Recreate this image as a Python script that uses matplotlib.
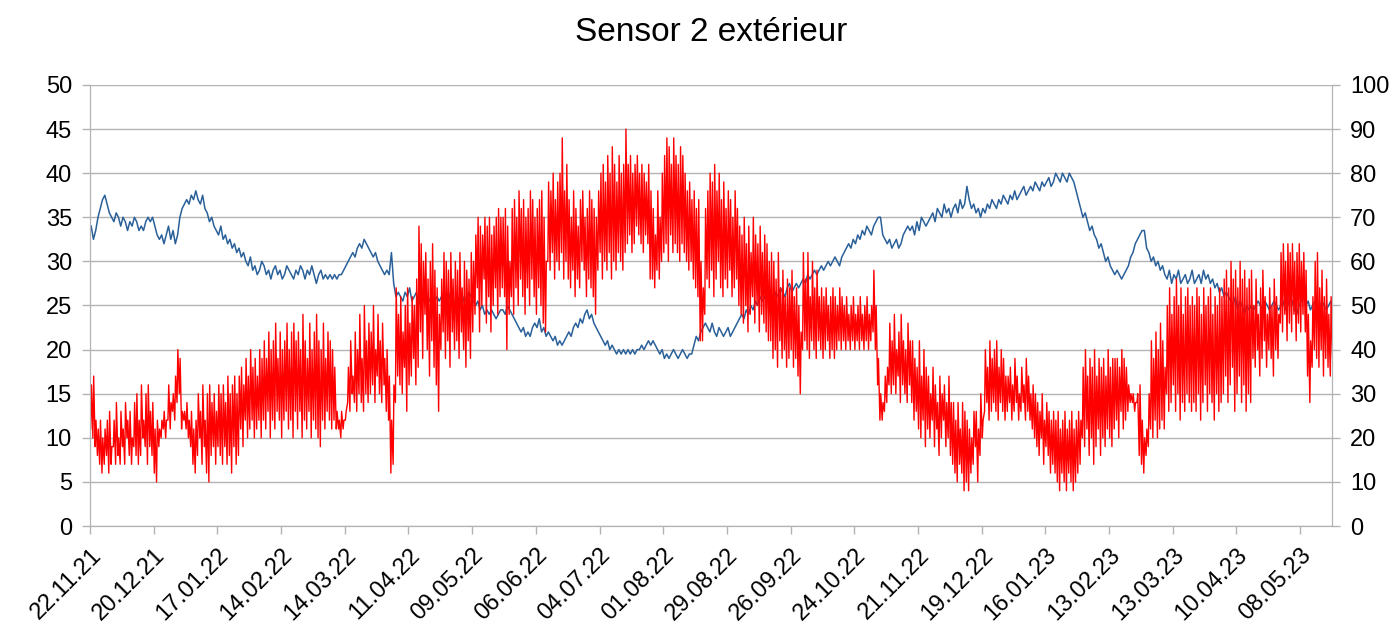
import numpy as np
import pandas as pd
import matplotlib
matplotlib.use("Agg")
import matplotlib.pyplot as plt

plt.rcParams['font.family'] = ['Liberation Sans', 'DejaVu Sans']

start = pd.Timestamp("2021-11-22")

# daily high / low temperature (left axis)
t_max = [
    16, 17, 12, 11, 12, 10, 11, 12, 13, 9, 12, 14, 10, 13, 11,
    14, 12, 13, 10, 14, 15, 12, 16, 12, 15, 16, 13, 14, 11, 12,
    11, 12, 13, 12, 16, 14, 15, 17, 20, 19, 13, 13, 14, 12, 13, 11, 12,
    15, 13, 16, 12, 15, 16, 14, 15, 13, 16, 15, 16, 14, 17, 15, 16, 17, 15, 17,
    18, 16, 19, 17, 20, 18, 19, 17, 20, 19,
    21, 19, 22, 20, 21, 23, 19, 22, 20, 21, 23, 20, 22, 23, 21,
    22, 20, 24, 21, 19, 23, 20, 22, 24, 21, 20, 23, 19, 22, 21, 20, 18,
    13, 12, 13, 12, 13,
    18, 21, 17, 22, 20, 24, 19, 25, 21, 23,
    22, 25, 20, 24, 21, 23, 19, 20, 17,
    12, 16,
    27, 24, 26, 22, 25, 27, 23, 26, 25, 28, 34,
    32, 30, 31, 28, 30, 32, 29, 27, 24,
    28, 31, 30, 29, 31, 28, 30, 29, 31, 27, 30, 29, 28, 31, 30,
    33, 35, 34, 33, 35, 34, 35, 33, 34, 35, 36, 35,
    35, 36, 34, 30,
    36, 37, 35, 38, 36, 37, 35, 36, 38, 37, 35, 36, 37, 38, 35, 30,
    39, 38, 40, 37, 39, 40, 44, 38, 41,
    37, 35, 38, 36, 34, 37, 38, 35, 36, 38, 37, 36, 35,
    38, 40, 41, 39, 42, 40, 43, 41, 39, 42, 40, 41, 45,
    41, 42, 40, 41, 42, 40, 41, 40, 39, 41, 38,
    36, 33, 38, 35, 40,
    42, 44, 43, 41, 44, 42, 41, 43, 42,
    40, 38, 39, 37, 38, 36, 37,
    30, 27, 36,
    38, 40, 39, 41, 38, 40, 37, 39, 36, 38, 37, 35, 38, 36, 34,
    33, 35, 32, 34, 31, 35, 33, 32, 34, 31, 33, 32, 30,
    31, 30, 28, 31, 27, 29, 26, 28, 27, 29, 26, 27, 25, 22,
    31, 28, 31, 26, 30, 27, 29, 26,
    27, 26, 27, 25, 26, 27, 26, 25, 27, 26,
    25, 26, 24, 25, 26, 24, 25, 26, 24, 25, 26, 24, 25, 29, 25,
    19, 15, 14, 17, 18,
    23, 21, 24, 20, 22, 24, 21, 20, 23, 21,
    21, 19, 18, 21, 17, 20, 18,
    17, 15, 18, 16, 14, 17, 15, 16, 14, 17, 14,
    14, 12, 14, 11, 14, 13, 12, 11, 10,
    13, 13, 11, 15, 12,
    20, 18, 21, 19, 20, 21, 18, 20, 19, 17,
    17, 18, 16, 19, 17, 15, 18, 16, 19, 17, 15, 16,
    15, 14, 13, 15, 12, 14, 13, 12, 13,
    12, 13, 11, 12, 13, 11, 12, 13, 11, 12, 13, 12,
    18, 20, 17, 19, 18, 20, 17, 19, 18, 19, 17, 20, 18, 19, 19,
    19, 18, 20, 19, 18, 16,
    15, 15, 14, 15,
    16, 12, 10, 11, 15,
    21, 19, 22, 20, 23, 21, 18,
    25, 27, 24, 26, 28, 25, 27, 24, 26, 27, 25, 26,
    25, 27, 26, 24, 27, 25, 26, 27, 24, 26, 25, 27, 26, 28,
    29, 27, 30, 28, 29, 27, 30, 28, 29, 27, 28, 29,
    25, 28, 24, 27, 29, 26, 24, 27, 25, 28, 26, 24,
    31, 32, 30, 32, 31, 32, 30, 31, 32, 30, 31, 29,
    24, 21, 26, 30,
    31, 27, 29, 26, 28, 24, 26, 25, 25,
]
t_min = [
    11, 10, 9, 8, 7, 6, 7, 8, 6, 7, 9, 7, 8, 7, 9,
    7, 10, 8, 7, 9, 8, 7, 8, 10, 9, 7, 9, 8, 6, 5,
    9, 10, 11, 10, 12, 11, 13, 12, 14, 15, 11, 12, 11, 10, 9, 7, 6,
    8, 10, 7, 9, 6, 5, 8, 9, 7, 9, 8, 7, 9, 7, 8, 6, 9, 7, 8,
    11, 9, 12, 10, 11, 12, 10, 11, 12, 10,
    12, 11, 13, 10, 12, 11, 13, 12, 10, 12, 13, 11, 12, 10, 13,
    11, 13, 10, 12, 11, 13, 10, 12, 11, 10, 9, 12, 11, 13, 12, 11, 12,
    11, 11, 10, 11, 12,
    14, 13, 15, 14, 13, 15, 14, 13, 15, 14,
    15, 16, 14, 17, 15, 14, 16, 13, 12,
    6, 7,
    14, 17, 16, 15, 18, 13, 16, 17, 19, 16, 18,
    22, 19, 24, 20, 17, 21, 18, 16, 13,
    20, 22, 19, 21, 18, 22, 20, 21, 19, 22, 20, 18, 21, 19, 22,
    24, 27, 22, 25, 28, 23, 26, 22, 25, 27, 24, 26,
    27, 26, 20, 24,
    26, 24, 27, 25, 28, 26, 24, 27, 25, 28, 26, 24, 27, 25, 23, 22,
    30, 29, 31, 28, 30, 29, 31, 28, 30,
    28, 27, 29, 26, 28, 27, 30, 29, 26, 28, 27, 26, 24,
    29, 31, 28, 30, 29, 31, 28, 30, 29, 31, 30, 29, 31,
    32, 33, 31, 32, 34, 33, 32, 31, 33, 32, 28,
    28, 27, 29, 28, 30,
    31, 32, 30, 33, 31, 32, 31, 30, 32,
    31, 30, 29, 30, 28, 27, 26,
    21, 21, 24,
    28, 27, 29, 26, 28, 30, 27, 26, 28, 27, 29, 26, 27, 28, 25,
    24, 23, 25, 22, 24, 26, 23, 25, 22, 24, 23, 22, 21,
    21, 19, 20, 18, 21, 19, 20, 18, 19, 20, 18, 19, 17, 15,
    20, 21, 20, 19, 21, 20, 19, 21,
    20, 19, 20, 21, 19, 20, 19, 20, 21, 20,
    21, 20, 21, 20, 21, 20, 21, 20, 21, 20, 21, 20, 21, 22, 20,
    16, 12, 12, 13, 14,
    16, 15, 16, 15, 17, 14, 16, 15, 14, 16,
    14, 12, 13, 11, 10, 12, 9,
    11, 10, 12, 9, 11, 8, 10, 12, 9, 10, 8,
    7, 6, 5, 7, 6, 4, 5, 4, 6,
    7, 9, 5, 8, 10,
    13, 14, 12, 13, 14, 13, 12, 14, 13, 12,
    13, 14, 12, 13, 14, 12, 13, 14, 12, 13, 12, 11,
    10, 9, 8, 10, 7, 9, 8, 6, 7,
    6, 5, 4, 6, 5, 4, 6, 5, 4, 5, 6, 7,
    10, 9, 11, 8, 10, 7, 9, 11, 8, 10, 9, 11, 10, 9, 11,
    12, 10, 13, 11, 12, 13,
    14, 14, 13, 14,
    8, 7, 6, 8, 9,
    11, 10, 12, 10, 11, 12, 11,
    15, 13, 14, 16, 13, 15, 12, 14, 13, 15, 14, 13,
    14, 13, 15, 12, 14, 16, 13, 15, 14, 12, 15, 13, 14, 15,
    17, 14, 16, 18, 13, 15, 17, 14, 16, 13, 15, 14,
    19, 18, 20, 17, 19, 21, 18, 20, 19, 17, 20, 19,
    23, 22, 24, 21, 23, 22, 24, 21, 23, 22, 24, 22,
    17, 14, 18, 20,
    19, 18, 20, 17, 19, 18, 17, 19, 21,
]

# daily humidity in % (right axis)
humidity = [
    68, 65, 67, 70, 72, 74, 75, 73,
    71, 70, 69, 71, 70, 68, 70, 69, 67, 69, 68, 70, 69, 67,
    68, 67, 69, 70, 69, 70, 68, 66, 65, 66, 64, 66,
    68, 65, 67, 64, 66, 70, 72, 73,
    74, 73, 75, 74, 76, 74, 73, 75, 72, 71, 69,
    70, 68, 67, 66, 68, 65, 66, 64, 65, 63, 64, 62, 63,
    61, 62, 60, 59, 61, 58, 59, 57, 58, 60, 59, 57, 58, 56, 58, 59, 57, 58, 56, 57, 59, 58, 57, 56, 58,
    57, 59, 58, 56, 58, 57, 59, 57, 55, 57, 58, 56, 57,
    56, 57, 56, 57, 56, 57, 57, 58, 59,
    60, 61, 62, 61, 63, 64, 63, 65,
    64, 63, 62, 61, 62, 60, 59, 58, 57, 58, 57,
    62, 55,
    52, 53, 52, 51, 53, 52, 54, 51, 52, 53, 50, 52, 51, 53, 52, 51, 50, 51, 52,
    51, 52, 50, 52, 51, 53, 51, 50, 52, 51, 50, 52, 51, 53, 52, 51, 50, 51, 49, 50, 48, 49, 48, 49, 48, 47, 48, 49,
    49, 48, 50, 49,
    48, 47, 46, 45, 44, 45, 43, 44, 43,
    45, 46, 45, 47, 44, 45, 43,
    44, 43, 42, 43, 41, 42, 41,
    42, 43, 44, 43, 45, 46, 45, 47, 46, 48, 49,
    47, 48, 46, 45, 44, 43, 42, 41, 42, 40, 41, 40, 39,
    40, 39, 40, 39, 40, 39, 40, 39, 40, 40, 41, 40, 41, 42, 41,
    42, 41, 40, 39, 40, 38, 39, 38,
    39, 40, 39, 38, 39, 40, 39, 38, 39, 39,
    41, 43, 42, 44, 45, 46,
    45, 44, 46, 44, 43, 45, 44, 43, 44, 45, 43, 44, 45,
    46, 47, 48, 47, 49, 48, 50, 49, 51, 50, 52, 51,
    52, 51, 53, 52, 51, 53, 52, 54, 53, 52, 54, 55, 53, 54, 55, 54, 55,
    56, 55, 57, 56, 57, 58, 57, 58, 59, 58, 59, 60, 59, 60, 61, 60, 59, 61,
    62, 63, 64, 63, 65, 64, 66, 65, 67, 66, 68, 67, 66, 68, 69, 70, 70,
    66, 65, 64, 65, 63, 64, 65, 63, 64,
    66, 67, 68, 67,
    68, 66, 69, 67, 70, 69, 68,
    69, 70, 71, 69, 72, 71, 70, 73, 71, 72, 70, 72, 73, 71, 74, 72, 73, 77,
    74, 72, 73, 71, 72, 70, 72, 71, 73, 72, 74, 73, 72, 74, 73,
    75, 74, 73, 75, 74, 76, 74, 75, 76, 77, 75, 76, 77, 76, 78, 77, 76, 78,
    77, 78, 79, 77, 78, 80, 79, 78, 80, 79, 78, 80, 79, 78,
    76, 74, 72, 70, 71, 69, 67, 68, 66,
    65, 63, 64, 62, 60, 61, 59, 58, 57,
    58, 57, 56, 57, 58,
    59, 61, 62, 64, 65, 66, 67, 67,
    63, 62, 60, 61, 59, 60, 58, 59,
    57, 56, 58, 55, 57, 56, 58, 55, 56, 57, 55, 56, 58, 55, 56, 57, 55, 58, 56, 57, 55, 56,
    54, 55, 53, 54, 52, 53, 52,
    51, 50, 52, 49, 51, 50, 48, 50, 49, 50,
    49, 50, 51, 50, 49, 51, 50, 49, 50, 51, 50, 49,
    50, 51, 49, 50, 52, 51, 49, 48, 50, 51, 52, 50, 51, 49, 50,
    51, 50, 49, 51, 50, 49, 50, 51, 49, 51,
]

# night low early morning, day high in the afternoon
n = min(len(t_max), len(t_min))
days = np.arange(n)
temp_x = start + pd.to_timedelta(np.column_stack([days + 0.25, days + 0.6]).ravel(), unit="D")
temp_y = np.column_stack([t_min[:n], t_max[:n]]).ravel()
hum_x = start + pd.to_timedelta(np.arange(len(humidity)) + 0.5, unit="D")

ticks = pd.date_range(start, periods=20, freq="28D")
grid_col = "#b3b3b3"

fig = plt.figure(figsize=(13.98, 6.34), dpi=100)
ax = fig.add_axes([0.0644, 0.1703, 0.8884, 0.6957])
ax2 = ax.twinx()

ax2.plot(hum_x, humidity, color="#2a6099", lw=1.1)
ax.plot(temp_x, temp_y, color="#ff0000", lw=1.0)

# red series above the blue one
ax.set_zorder(ax2.get_zorder() + 1)
ax.patch.set_visible(False)

ax.set_ylim(0, 50)
ax.set_yticks(range(0, 51, 5))
ax2.set_ylim(0, 100)
ax2.set_yticks(range(0, 101, 10))
ax2.grid(axis="y", color=grid_col, lw=1)
ax2.set_axisbelow(True)

ax.set_xlim(start, start + pd.Timedelta(days=546))
ax.set_xticks(ticks)
ax.set_xticklabels([d.strftime("%d.%m.%y") for d in ticks], rotation=45,
                   ha="right", rotation_mode="anchor")

for a in (ax, ax2):
    for s in a.spines.values():
        s.set_color(grid_col)
    a.spines["top"].set_visible(False)
    a.tick_params(colors=grid_col, labelcolor="black", labelsize=17, length=6, width=1, pad=7)

ax.set_title("Sensor 2 extérieur", fontsize=24, pad=32)

fig.savefig("out.png", dpi=100)
